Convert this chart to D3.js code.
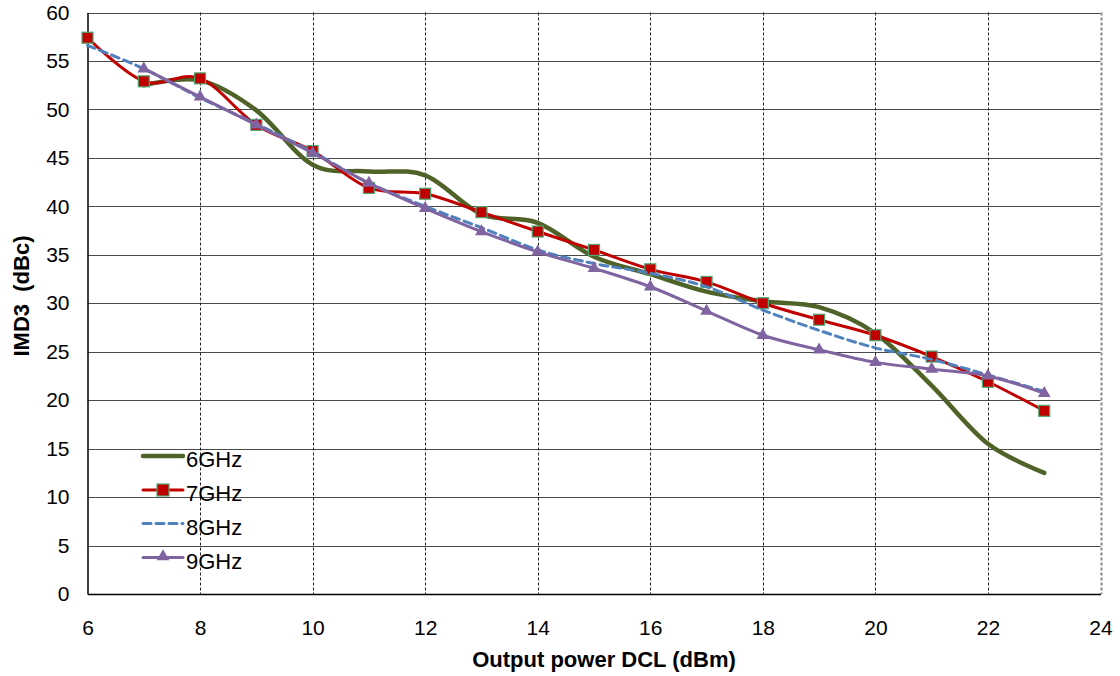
<!DOCTYPE html>
<html><head><meta charset="utf-8">
<script src="https://cdn.jsdelivr.net/npm/d3@7"></script>
<style>body{margin:0;background:#fff}svg{display:block}text{font-family:"Liberation Sans",Arial,sans-serif}</style>
</head><body>
<svg id="c" width="1120" height="676"></svg>
<script>
const xs = [6,7,8,9,10,11,12,13,14,15,16,17,18,19,20,21,22,23];
const ghz6 = [null,52.5,53.0,49.9,44.3,43.6,43.2,39.2,38.3,34.8,33.0,31.2,30.2,29.6,26.9,21.5,15.5,12.5];
const ghz7 = [57.4,52.9,53.2,48.4,45.7,41.9,41.3,39.4,37.4,35.5,33.5,32.2,30.0,28.3,26.7,24.5,21.9,18.9];
const ghz8 = [56.6,54.2,51.2,48.5,45.6,42.4,40.0,37.8,35.5,34.1,33.1,31.7,29.3,27.2,25.4,24.2,22.6,20.9];
const ghz9 = [null,54.2,51.3,48.4,45.5,42.4,39.8,37.4,35.3,33.6,31.7,29.2,26.7,25.2,23.9,23.2,22.5,20.7];
const seriesNames = ["6GHz","7GHz","8GHz","9GHz"];
const xTicks = [6,8,10,12,14,16,18,20,22,24];
const yTicks = [0,5,10,15,20,25,30,35,40,45,50,55,60];
const xTitle = "Output power DCL (dBm)";
const yTitle = "IMD3\u00a0 (dBc)";

const svg = d3.select("#c");
const L = 87.5, R = 1100.5, T = 12.5, B = 594;
const x = d3.scaleLinear().domain([6,24]).range([L,R]);
const y = d3.scaleLinear().domain([0,60]).range([B,T]);

// horizontal gridlines
svg.append("g").selectAll("line").data(yTicks.filter(v=>v>0)).join("line")
  .attr("x1",L).attr("x2",R).attr("y1",d=>Math.round(y(d))+0.5).attr("y2",d=>Math.round(y(d))+0.5)
  .attr("stroke","#4a4a4a").attr("stroke-width",1.2);
// vertical dashed gridlines
svg.append("g").selectAll("line").data(xTicks.filter(v=>v>6)).join("line")
  .attr("x1",d=>Math.round(x(d))+0.5).attr("x2",d=>Math.round(x(d))+0.5).attr("y1",T).attr("y2",B)
  .attr("stroke",d=>d===24?"#888":"#222").attr("stroke-width",d=>d===24?2:1).attr("stroke-dasharray","3,2");

// axes
const xAxis = svg.append("g").attr("transform",`translate(0,${B})`)
  .call(d3.axisBottom(x).tickValues(xTicks).tickSize(0).tickPadding(26).tickFormat(d3.format("d")));
xAxis.select(".domain").attr("stroke","#000").attr("stroke-width",1.5);
xAxis.selectAll("text").attr("font-size",21).attr("fill","#000").attr("font-family","Liberation Sans, Arial");
const yAxis = svg.append("g").attr("transform",`translate(${L},0)`)
  .call(d3.axisLeft(y).tickValues(yTicks).tickSize(0).tickPadding(18).tickFormat(d3.format("d")));
yAxis.select(".domain").attr("stroke","#000").attr("stroke-width",1.5);
yAxis.selectAll("text").attr("font-size",21).attr("fill","#000").attr("font-family","Liberation Sans, Arial");

// titles
svg.append("text").attr("x",604).attr("y",667).attr("text-anchor","middle")
  .attr("font-size",22).attr("font-weight","bold").text(xTitle);
svg.append("text").attr("transform","translate(29,296) rotate(-90)").attr("text-anchor","middle")
  .attr("font-size",22).attr("font-weight","bold").text(yTitle);

const curve = d3.curveCardinal.tension(0);
const line = d3.line().defined(d=>d[1]!=null).x(d=>x(d[0])).y(d=>y(d[1])).curve(curve);
const pts = arr => xs.map((v,i)=>[v,arr[i]]).filter(d=>d[1]!=null);

const styles = [
  {data:ghz6, color:"#4F6228", w:4.5, dash:null, marker:null},
  {data:ghz7, color:"#C00000", w:3, dash:null, marker:"square"},
  {data:ghz8, color:"#4F81BD", w:3, dash:"8,5", marker:null},
  {data:ghz9, color:"#8064A2", w:3, dash:null, marker:"tri"}
];
const tri = d3.symbol().type(d3.symbolTriangle).size(70);

styles.forEach(s=>{
  const g = svg.append("g");
  g.append("path").datum(pts(s.data)).attr("d",line).attr("fill","none")
    .attr("stroke",s.color).attr("stroke-width",s.w).attr("stroke-linecap","round")
    .attr("stroke-dasharray",s.dash);
  if(s.marker==="square"){
    g.selectAll("rect").data(pts(s.data)).join("rect")
      .attr("x",d=>x(d[0])-5.5).attr("y",d=>y(d[1])-5.5).attr("width",11).attr("height",11)
      .attr("fill","#C00000").attr("stroke","#4FA874").attr("stroke-width",1.2);
  } else if(s.marker==="tri"){
    g.selectAll("path.m").data(pts(s.data)).join("path").attr("class","m")
      .attr("d",tri).attr("transform",d=>`translate(${x(d[0])},${y(d[1])})`)
      .attr("fill","#8064A2");
  }
});

// legend
const leg = svg.append("g");
const ly = [456,490,523.5,557.5];
styles.forEach((s,i)=>{
  leg.append("line").attr("x1",143).attr("x2",183).attr("y1",ly[i]).attr("y2",ly[i])
    .attr("stroke",s.color).attr("stroke-width",s.w).attr("stroke-linecap","round").attr("stroke-dasharray",s.dash);
  if(s.marker==="square") leg.append("rect").attr("x",157).attr("y",ly[i]-6).attr("width",12).attr("height",12)
    .attr("fill","#C00000").attr("stroke","#4FA874").attr("stroke-width",1.2);
  if(s.marker==="tri") leg.append("path").attr("d",tri).attr("transform",`translate(163,${ly[i]-1})`).attr("fill","#8064A2");
  leg.append("text").attr("x",186).attr("y",ly[i]+11).attr("font-size",22).attr("fill","#000").text(seriesNames[i]);
});
</script>
</body></html>
